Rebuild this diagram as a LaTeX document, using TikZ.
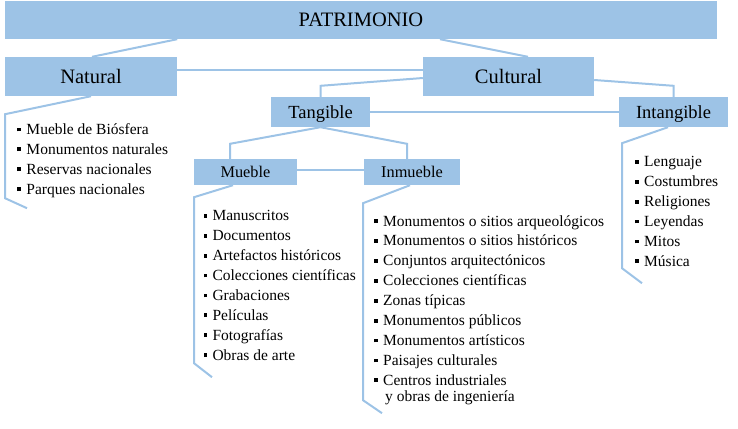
\documentclass[tikz,border=0pt]{standalone}
\usepackage{fontspec}
\setmainfont{Liberation Serif}
\usetikzlibrary{calc}
\definecolor{boxblue}{HTML}{9DC3E6}
\definecolor{lineblue}{HTML}{9DC3E6}
\newcommand\sqb{\rule[3bp]{3.8bp}{3.8bp}\hspace{5.2bp}}
\tikzset{
  box/.style={fill=boxblue, draw=none, inner sep=0pt, text depth=0pt},
  bigbox/.style={box, text height=13.5bp, font=\rmfamily\fontsize{20.5bp}{24bp}\selectfont},
  midbox/.style={box, text height=12.2bp, font=\rmfamily\fontsize{18.5bp}{22bp}\selectfont},
  smallbox/.style={box, text height=10.8bp, font=\rmfamily\fontsize{16.3bp}{20bp}\selectfont},
  conn/.style={draw=lineblue, line width=2bp},
  lst/.style={inner sep=0pt, anchor=base west, font=\rmfamily\fontsize{15.5bp}{19.9bp}\selectfont},
}
\begin{document}
\begin{tikzpicture}[x=1bp,y=-1bp]
\useasboundingbox (0,0) rectangle (738,428);
% boxes
\node[bigbox, minimum width=712bp, minimum height=38bp] (P) at (361,20) {PATRIMONIO};
\node[bigbox, minimum width=172bp, minimum height=39bp] (N) at (91,76.5) {Natural};
\node[bigbox, minimum width=171bp, minimum height=39bp] (C) at (508.5,76.5) {Cultural};
\node[midbox, minimum width=99bp, minimum height=30bp] (T) at (320.5,112) {Tangible};
\node[midbox, minimum width=109bp, minimum height=30bp] (I) at (673.5,112) {Intangible};
\node[smallbox, minimum width=103bp, minimum height=26bp] (M) at (245.5,172) {Mueble};
\node[smallbox, minimum width=96bp, minimum height=26bp] (Im) at (412,172) {Inmueble};
% connectors
\draw[conn] (P.south -| N.east) -- ([xshift=1bp]N.north);
\draw[conn] ([xshift=79bp]P.south) -- ([xshift=19.5bp]C.north);
\draw[conn] ([yshift=6.5bp]N.east) -- ([yshift=6.5bp]C.west);
\draw[conn] ([yshift=-1.5bp]C.west) -- ([yshift=11bp]T.north) -- (T.north);
\draw[conn] ([yshift=-3.5bp]C.east) -- ([yshift=11bp]I.north) -- (I.north);
\draw[conn] (T.east) -- (I.west);
\draw[conn] (T.south) -- ([xshift=-15.5bp,yshift=15bp]M.north) -- ([xshift=-15.5bp]M.north);
\draw[conn] (T.south) -- ([xshift=-5bp,yshift=15bp]Im.north) -- ([xshift=-5bp]Im.north);
\draw[conn] ([yshift=2bp]M.east) -- ([yshift=2bp]Im.west);
% brackets
\draw[conn] (N.south) -- ++(-86,18) -- ++(0,84) -- ++(22,10);
\draw[conn] ([xshift=-12.5bp]M.south) -- ++(-39,12) -- ++(0,166) -- ++(18,14);
\draw[conn] ([xshift=-2bp]Im.south) -- ++(-47,18) -- ++(0,197) -- ++(19,13);
\draw[conn] ([xshift=-5.5bp]I.south) -- ++(-46,16) -- ++(0,125) -- ++(20,15);
% lists
\node[lst] (LN) at (17.3,134.3) {\begin{tabular}[t]{@{}l@{}}
\sqb Mueble de Biósfera\\
\sqb Monumentos naturales\\
\sqb Reservas nacionales\\
\sqb Parques nacionales
\end{tabular}};
\node[lst] (LM) at (203.3,220.7) {\begin{tabular}[t]{@{}l@{}}
\sqb Manuscritos\\
\sqb Documentos\\
\sqb Artefactos históricos\\
\sqb Colecciones científicas\\
\sqb Grabaciones\\
\sqb Películas\\
\sqb Fotografías\\
\sqb Obras de arte
\end{tabular}};
\node[lst] (LI) at (374,226) {\begin{tabular}[t]{@{}l@{}}
\sqb Monumentos o sitios arqueológicos\\
\sqb Monumentos o sitios históricos\\
\sqb Conjuntos arquitectónicos\\
\sqb Colecciones científicas\\
\sqb Zonas típicas\\
\sqb Monumentos públicos\\
\sqb Monumentos artísticos\\
\sqb Paisajes culturales\\
\sqb Centros industriales\\[-4bp]
\hspace{11bp}y obras de ingeniería
\end{tabular}};
\node[lst] (LT) at (635,166.7) {\begin{tabular}[t]{@{}l@{}}
\sqb Lenguaje\\
\sqb Costumbres\\
\sqb Religiones\\
\sqb Leyendas\\
\sqb Mitos\\
\sqb Música
\end{tabular}};
\end{tikzpicture}
\end{document}
